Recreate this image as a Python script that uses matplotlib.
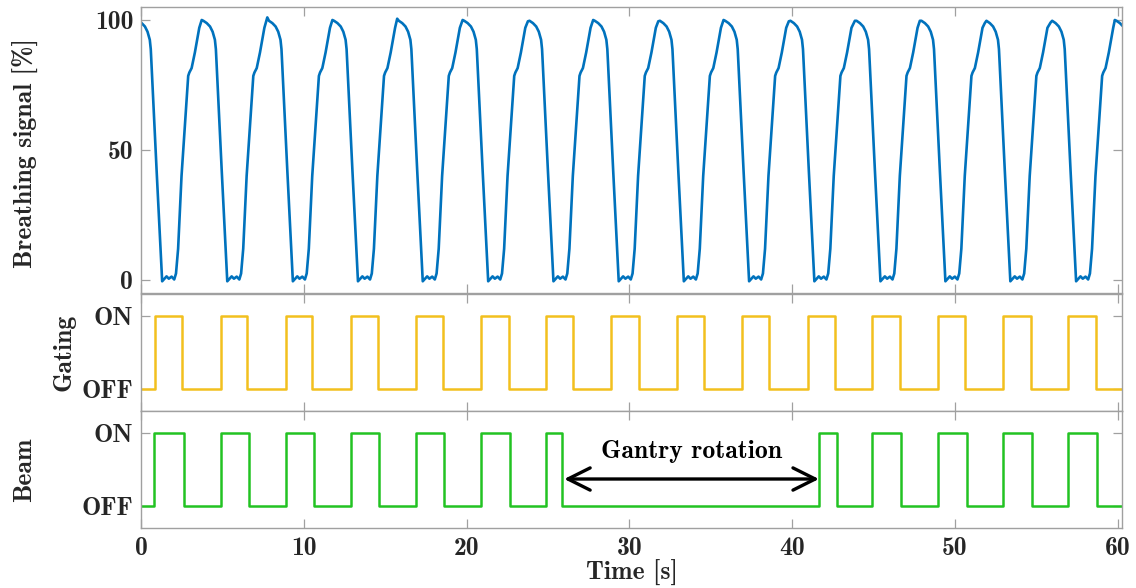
import numpy as np
import matplotlib
matplotlib.use("Agg")
import matplotlib.pyplot as plt

# ---------------- data ----------------
# breathing signal: one cycle shape (time offset from peak [s], value [%])
cycle_dt = [0.00, 0.10, 0.31, 0.51, 0.67, 0.81, 0.87, 0.91, 1.23, 1.57,
            1.68, 1.84, 1.98, 2.15, 2.31, 2.42, 2.55, 2.76, 3.17, 3.24,
            3.38, 3.58, 3.85]
cycle_val = [100.0, 99.7, 98.8, 97.5, 95.5, 92.4, 88.8, 83.7, 42.0, -0.5,
             0.3, 1.4, 0.5, 1.3, 0.2, 2.5, 12.0, 40.0, 78.5, 79.8,
             81.5, 87.5, 97.0]
peak_times = [-0.27, 3.73, 7.76, 11.76, 15.74, 19.76, 23.77, 27.78, 31.78,
              35.79, 39.80, 43.86, 47.85, 51.84, 55.88, 59.83]
peak_vals = [100.0, 100.0, 101.0, 100.0, 100.5, 100.0, 99.5, 100.0, 99.5,
             100.0, 99.5, 99.7, 99.7, 98.8, 99.0, 100.0]

gating_on = [0.86, 4.90, 8.89, 12.88, 16.89, 20.88, 24.89, 28.90, 32.91,
             36.92, 40.97, 44.94, 48.94, 52.97, 56.98]
gating_off = [2.54, 6.53, 10.52, 14.54, 18.53, 22.60, 26.57, 30.58, 34.60,
              38.60, 42.63, 46.63, 50.63, 54.65, 58.66]

beam_on = [0.80, 4.90, 8.89, 12.88, 16.89, 20.88, 24.90, 41.66, 44.94,
           48.94, 52.97, 56.98]
beam_off = [2.64, 6.63, 10.63, 14.64, 18.63, 22.67, 25.86, 42.77, 46.71,
            50.72, 54.75, 58.74]

x_ticks = [0, 10, 20, 30, 40, 50, 60]
breath_ticks = [0, 50, 100]
state_ticks = [0, 1]
state_labels = ["OFF", "ON"]
arrow_start, arrow_end, arrow_level = 26.0, 41.65, 0.37
arrow_text = "Gantry rotation"
text_x, text_y = 33.8, 0.74
t_end = 60.27

# ---------------- build series ----------------
bt, bv = [], []
for tp, pv in zip(peak_times, peak_vals):
    for k, (dt, v) in enumerate(zip(cycle_dt, cycle_val)):
        bt.append(tp + dt)
        bv.append(pv if k == 0 else v)


def step_series(ons, offs, t_end):
    xs, ys = [0.0], [0]
    for a, b in zip(ons, offs):
        xs += [a, b]
        ys += [1, 0]
    xs.append(t_end)
    ys.append(0)
    return xs, ys


gx, gy = step_series(gating_on, gating_off, t_end)
ex, ey = step_series(beam_on, beam_off, t_end)

# ---------------- style ----------------
plt.rcParams['font.family'] = ['cmb10', 'DejaVu Serif']
plt.rcParams['axes.formatter.use_mathtext'] = True
FS = 18.5
TXT = '#262626'
SPINE = '#a0a0a0'

fig = plt.figure(figsize=(11.36, 5.88), dpi=100)
L, W = 141 / 1136, (1122 - 141) / 1136
ax1 = fig.add_axes([L, 1 - 293 / 588, W, (293 - 7) / 588])
ax2 = fig.add_axes([L, 1 - 411 / 588, W, (411 - 294) / 588])
ax3 = fig.add_axes([L, 1 - 528 / 588, W, (528 - 411) / 588])

ax1.plot(bt, bv, color='#0072BD', lw=1.9, solid_joinstyle='round')
ax2.plot(gx, gy, drawstyle='steps-post', color='#F2C01E', lw=1.8,
         solid_joinstyle='round')
ax3.plot(ex, ey, drawstyle='steps-post', color='#22C322', lw=1.8,
         solid_joinstyle='round')

for ax in (ax1, ax2, ax3):
    ax.set_xlim(0, t_end)
    ax.set_xticks(x_ticks)
    for s in ax.spines.values():
        s.set_color(SPINE)
        s.set_linewidth(1.0)
    ax.tick_params(direction='in', length=6.5, width=0.9, color=SPINE,
                   top=True, right=True, labelsize=FS, labelcolor=TXT)
    ax.tick_params(axis='y', pad=5.5)
    ax.tick_params(axis='x', pad=6.5)

ax1.set_ylim(-5, 105)
ax1.set_yticks(breath_ticks)
ax1.set_yticklabels([str(v) for v in breath_ticks])
ax1.tick_params(labelbottom=False)
ax1.set_ylabel('Breathing signal [%]', fontsize=FS, color=TXT, va='center')
ax1.yaxis.set_label_coords(-0.117, 0.49)

for ax, lab, lx in ((ax2, 'Gating', -0.079), (ax3, 'Beam', -0.119)):
    ax.set_ylim(-0.3, 1.3)
    ax.set_yticks(state_ticks)
    ax.set_yticklabels(state_labels)
    ax.set_ylabel(lab, fontsize=FS, color=TXT, va='center')
    ax.yaxis.set_label_coords(lx, 0.5)
ax2.tick_params(labelbottom=False)

ax3.set_xticklabels([str(v) for v in x_ticks])
ax3.set_xlabel('Time [s]', fontsize=FS, color=TXT, labelpad=0)

ax3.annotate('', xy=(arrow_start, arrow_level), xytext=(arrow_end, arrow_level),
             arrowprops=dict(arrowstyle='<->, head_length=0.8, head_width=0.4',
                             mutation_scale=20, lw=2.4, color='black',
                             shrinkA=0, shrinkB=0))
ax3.text(text_x, text_y, arrow_text, fontsize=FS, color='black',
         ha='center', va='center')

fig.savefig('out.png', dpi=100)
